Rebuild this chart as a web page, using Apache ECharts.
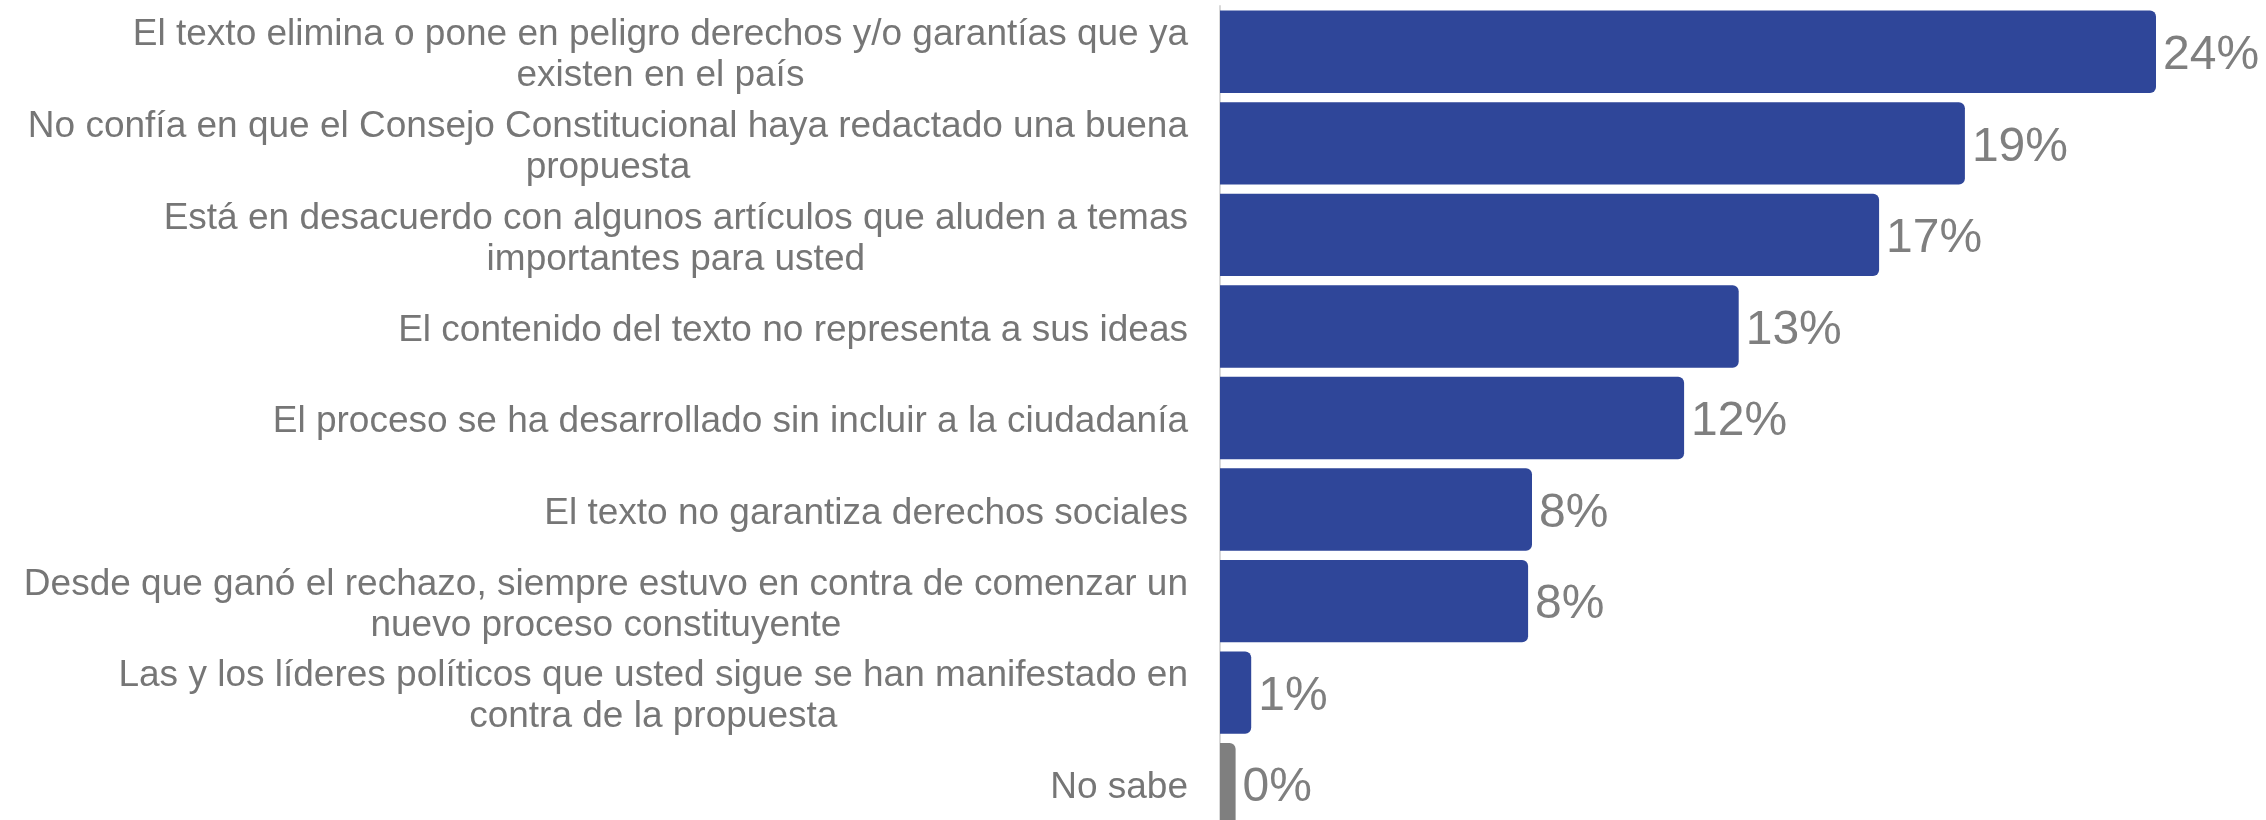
<!DOCTYPE html>
<html><head><meta charset="utf-8">
<script src="https://cdn.jsdelivr.net/npm/echarts@6/dist/echarts.min.js"></script>
<style>html,body{margin:0;padding:0;background:#fff;overflow:hidden}#c{width:2266px;height:850px}</style>
</head><body><div id="c"></div>
<script>
const categories = [
  "El texto elimina o pone en peligro derechos y/o garantías que ya\nexisten en el país",
  "No confía en que el Consejo Constitucional haya redactado una buena\npropuesta",
  "Está en desacuerdo con algunos artículos que aluden a temas\nimportantes para usted",
  "El contenido del texto no representa a sus ideas",
  "El proceso se ha desarrollado sin incluir a la ciudadanía",
  "El texto no garantiza derechos sociales",
  "Desde que ganó el rechazo, siempre estuvo en contra de comenzar un\nnuevo proceso constituyente",
  "Las y los líderes políticos que usted sigue se han manifestado en\ncontra de la propuesta",
  "No sabe"
];
const values = [24.0, 19.1, 16.9, 13.3, 11.9, 8.0, 7.9, 0.8, 0.4];
const valueLabels = ["24%", "19%", "17%", "13%", "12%", "8%", "8%", "1%", "0%"];
const colors = ["#2F4699","#2F4699","#2F4699","#2F4699","#2F4699","#2F4699","#2F4699","#2F4699","#7F7F7F"];

const chart = echarts.init(document.getElementById('c'));
chart.setOption({
  animation: false,
  grid: { left: 1220, top: 6, width: 1014, height: 824 },
  xAxis: { type: 'value', min: 0, max: 26, show: false },
  yAxis: {
    type: 'category', inverse: true, data: categories,
    axisLine: { show: true, lineStyle: { color: '#D9D9D9', width: 2 } },
    axisTick: { show: false },
    axisLabel: {
      margin: 32, fontFamily: 'Liberation Sans, Arial, sans-serif', fontSize: 37,
      color: '#767676', lineHeight: 41, padding: [8, 0, 0, 0],
      formatter: v => '{c|' + v.split('\n').join('}\n{c|') + '}',
      rich: { c: { align: 'center', fontSize: 37, lineHeight: 41, color: '#767676', fontFamily: 'Liberation Sans, Arial, sans-serif' } }
    }
  },
  series: [{
    type: 'bar', barCategoryGap: '10%',
    data: values.map((v, i) => ({ value: v, itemStyle: { color: colors[i] } })),
    itemStyle: { borderRadius: [0, 6, 6, 0] },
    label: {
      show: true, position: 'right', distance: 7, offset: [0, 4],
      formatter: p => valueLabels[p.dataIndex],
      fontFamily: 'Liberation Sans, Arial, sans-serif', fontSize: 48, color: '#7F7F7F'
    }
  }]
});
</script></body></html>
